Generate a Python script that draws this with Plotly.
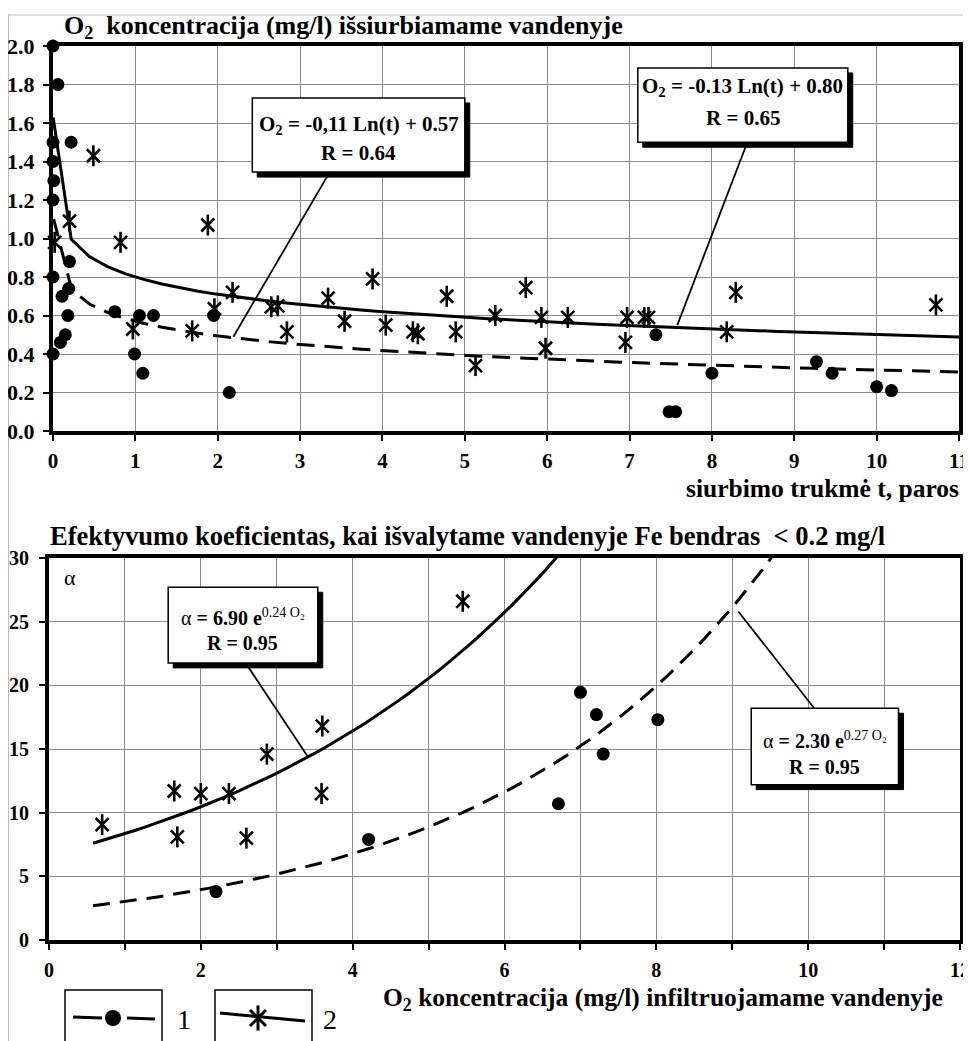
import numpy as np
import plotly.graph_objects as go

# The page has an 8px body margin: the figure is sized so that it exactly fills the window,
# and all positions below are given in window pixels and converted.
OFF = 8
W, H = 971 - OFF, 1041 - OFF
FONT = "Liberation Serif"

# ---------------- data: top chart (O2 in pumped water vs. pumping time) ----------------
t_dots = [0.0, 0.06, 0.0, 0.0, 0.01, 0.0, 0.22, 0.2, 0.19, 0.11, 0.18, 0.15, 0.09, 0.0, 0.0,
          0.75, 1.05, 1.22, 0.99, 1.09, 1.95, 2.14, 7.32, 7.48, 7.56, 8.0, 9.27, 9.46, 10.0, 10.18]
o2_dots = [2.0, 1.8, 1.5, 1.4, 1.3, 1.2, 1.5, 0.88, 0.74, 0.7, 0.6, 0.5, 0.46, 0.8, 0.4,
           0.62, 0.6, 0.6, 0.4, 0.3, 0.6, 0.2, 0.5, 0.1, 0.1, 0.3, 0.36, 0.3, 0.23, 0.21]
t_stars = [0.49, 0.2, 0.02, 0.82, 1.88, 0.97, 1.69, 1.96, 2.18, 2.65, 2.73, 2.84, 3.34, 3.54,
           3.88, 4.04, 4.37, 4.43, 4.78, 4.89, 5.13, 5.37, 5.74, 5.93, 5.98, 6.25, 6.95, 6.97,
           7.18, 7.23, 8.18, 8.29, 10.72]
o2_stars = [1.43, 1.09, 0.98, 0.98, 1.07, 0.53, 0.52, 0.635, 0.72, 0.645, 0.65, 0.515, 0.69, 0.57,
            0.79, 0.55, 0.515, 0.505, 0.70, 0.515, 0.34, 0.60, 0.745, 0.59, 0.43, 0.59, 0.46, 0.59,
            0.59, 0.59, 0.515, 0.72, 0.655]
# log trend lines  O2 = k*ln(t) + c   (k, c, t_start, t_end)
fit_dots_top = (-0.11, 0.57, 0.008, 11.0)
fit_stars_top = (-0.13, 0.80, 0.0017, 11.0)
top_x_ticks = list(range(0, 12))

# ---------------- data: bottom chart (alpha vs. O2 in infiltrated water) ----------------
o2in_dots = [2.2, 4.21, 6.71, 7.0, 7.21, 7.3, 8.02]
alpha_dots = [3.8, 7.9, 10.7, 19.45, 17.7, 14.6, 17.3]
o2in_stars = [0.7, 1.65, 1.69, 2.0, 2.37, 2.6, 2.87, 3.59, 3.6, 5.45]
alpha_stars = [9.06, 11.7, 8.1, 11.5, 11.5, 8.0, 14.6, 11.5, 16.8, 26.6]
# exponential curves as drawn  alpha = a*exp(b*x)   (a, b, x_start, x_end)
fit_dots_bot = (2.30, 0.27, 0.58, 9.55)
fit_stars_bot = (6.67, 0.225, 0.58, 7.2)
bot_x_ticks = list(range(0, 13))
bot_x_labels = [str(v) if v % 2 == 0 else "" for v in bot_x_ticks]


def px(x):
    return (x - OFF) / W


def py(y):
    return 1 - (y - OFF) / H


fig = go.Figure()

# ---- top trend lines ----
k, c, t0, t1 = fit_dots_top
tt = np.linspace(t0, t1, 51)
fig.add_trace(go.Scatter(x=tt, y=k * np.log(tt) + c, mode="lines",
                         line=dict(color="black", width=3, dash="18px,10px"),
                         xaxis="x", yaxis="y", hoverinfo="skip"))
k, c, t0, t1 = fit_stars_top
tt = np.linspace(t0, t1, 51)
fig.add_trace(go.Scatter(x=tt, y=k * np.log(tt) + c, mode="lines",
                         line=dict(color="black", width=3),
                         xaxis="x", yaxis="y", hoverinfo="skip"))

# ---- bottom curves ----
a, b, x0, x1 = fit_dots_bot
xx = np.linspace(x0, x1, 60)
fig.add_trace(go.Scatter(x=xx, y=a * np.exp(b * xx), mode="lines",
                         line=dict(color="black", width=3, dash="17px,10px"),
                         xaxis="x2", yaxis="y2", hoverinfo="skip"))
a, b, x0, x1 = fit_stars_bot
xx = np.linspace(x0, x1, 60)
fig.add_trace(go.Scatter(x=xx, y=a * np.exp(b * xx), mode="lines",
                         line=dict(color="black", width=3),
                         xaxis="x2", yaxis="y2", hoverinfo="skip"))


def add_dots(x, y, xa, ya, size=13):
    fig.add_trace(go.Scatter(x=x, y=y, mode="markers", cliponaxis=False,
                             marker=dict(symbol="circle", size=size, color="black"),
                             xaxis=xa, yaxis=ya))


def add_stars(x, y, xa, ya, size=13, width=2.6):
    fig.add_trace(go.Scatter(x=x, y=y, mode="markers", cliponaxis=False,
                             marker=dict(symbol="x-thin-open", size=size, color="black",
                                         line=dict(color="black", width=width)),
                             xaxis=xa, yaxis=ya))
    fig.add_trace(go.Scatter(x=x, y=y, mode="markers", cliponaxis=False,
                             marker=dict(symbol="line-ns-open", size=size + 2, color="black",
                                         line=dict(color="black", width=width)),
                             xaxis=xa, yaxis=ya))


add_dots(t_dots, o2_dots, "x", "y")
add_stars(t_stars, o2_stars, "x", "y")
add_dots(o2in_dots, alpha_dots, "x2", "y2")
add_stars(o2in_stars, alpha_stars, "x2", "y2")

# ---- legend keys on a hidden axis measured in window pixels ----
fig.add_trace(go.Scatter(x=[73, 102, None, 127, 155], y=[1017, 1018, None, 1018, 1019], mode="lines",
                         line=dict(color="black", width=3), xaxis="x3", yaxis="y3"))
add_dots([113], [1018], "x3", "y3", size=16)
fig.add_trace(go.Scatter(x=[220, 305], y=[1013, 1021], mode="lines",
                         line=dict(color="black", width=3), xaxis="x3", yaxis="y3"))
add_stars([258], [1018], "x3", "y3", size=16, width=3)


def axis_style(size):
    return dict(showline=True, linecolor="black", linewidth=4, mirror=True,
                showgrid=True, gridcolor="#8c8c8c", gridwidth=1.2, zeroline=False,
                ticks="outside", ticklen=6, tickwidth=2, tickcolor="black",
                tickfont=dict(family=FONT, size=size, color="black", weight="bold"),
                fixedrange=True, automargin=False)


fig.update_layout(
    template="none",
    width=W, height=H, margin=dict(l=0, r=0, t=0, b=0, pad=0, autoexpand=False),
    paper_bgcolor="white", plot_bgcolor="rgba(0,0,0,0)", showlegend=False,
    font=dict(family=FONT, color="black"),
    xaxis=dict(domain=[px(53), px(959)], range=[0, 11], tickvals=top_x_ticks,
               anchor="y", ticklabelstandoff=2, **axis_style(21)),
    yaxis=dict(domain=[py(431), py(46)], range=[0, 2], dtick=0.2, tickformat=".1f",
               anchor="x", ticklabelstandoff=4, **axis_style(22)),
    xaxis2=dict(domain=[px(49), px(960)], range=[0, 12], tickvals=bot_x_ticks,
                ticktext=bot_x_labels, anchor="y2", ticklabelstandoff=3, **axis_style(20)),
    yaxis2=dict(domain=[py(940), py(558)], range=[0, 30], dtick=5,
                anchor="x2", ticklabelstandoff=6, **axis_style(20)),
    xaxis3=dict(domain=[0, 1], range=[OFF, OFF + W], visible=False, anchor="y3", fixedrange=True,
                automargin=False),
    yaxis3=dict(domain=[0, 1], range=[OFF + H, OFF], visible=False, anchor="x3", fixedrange=True,
                automargin=False),
)

shapes = []
ann = []

# outer frame
shapes.append(dict(type="rect", xref="paper", yref="paper", x0=px(8.5), x1=px(967), y0=py(1046), y1=py(15),
                   line=dict(color="#bdbdbd", width=1.2), layer="below"))


def callout(xr, yr, x0, x1, y0, y1, dx, dy, lead, lines, size):
    shapes.append(dict(type="rect", xref=xr, yref=yr, x0=x0 + dx, x1=x1 + dx, y0=y0 - dy, y1=y1 - dy,
                       fillcolor="black", line=dict(color="black", width=1), layer="above"))
    shapes.append(dict(type="rect", xref=xr, yref=yr, x0=x0, x1=x1, y0=y0, y1=y1,
                       fillcolor="white", line=dict(color="black", width=1.5), layer="above"))
    shapes.append(dict(type="line", xref=xr, yref=yr, x0=lead[0], y0=lead[1], x1=lead[2], y1=lead[3],
                       line=dict(color="black", width=1.8), layer="above"))
    for (tx, ty, txt) in lines:
        ann.append(dict(xref=xr, yref=yr, x=tx, y=ty, text=txt, showarrow=False,
                        xanchor="center", yanchor="middle",
                        font=dict(family=FONT, size=size, color="black")))


callout("x", "y", 2.42, 5.0, 1.345, 1.73, 0.06, 0.026, (3.36, 1.345, 2.19, 0.49),
        [(3.71, 1.59, "<b>O<sub>2</sub> = -0,11 Ln(t) + 0.57</b>"), (3.71, 1.444, "<b>R = 0.64</b>")], 21)
callout("x", "y", 7.1, 9.65, 1.50, 1.886, 0.06, 0.026, (8.43, 1.50, 7.58, 0.55),
        [(8.375, 1.787, "<b>O<sub>2</sub> = -0.13 Ln(t) + 0.80</b>"), (8.375, 1.626, "<b>R = 0.65</b>")], 21)
callout("x2", "y2", 1.57, 3.54, 21.76, 27.7, 0.066, 0.39, (2.59, 21.76, 3.41, 14.4),
        [(2.55, 25.4, "α <b>= 6.90 e</b><sup>0.24 O₂</sup>"), (2.55, 23.3, "<b>R = 0.95</b>")], 20)
callout("x2", "y2", 9.25, 11.19, 12.2, 18.2, 0.066, 0.39, (10.08, 18.2, 9.08, 25.8),
        [(10.22, 15.7, "α <b>= 2.30 e</b><sup>0.27 O₂</sup>"), (10.22, 13.6, "<b>R = 0.95</b>")], 20)

# titles
ann.append(dict(xref="paper", yref="paper", x=px(62), y=py(27), xanchor="left", yanchor="middle",
                text="<b>O<sub>2</sub>  koncentracija (mg/l) išsiurbiamame vandenyje</b>", showarrow=False,
                font=dict(family=FONT, size=26, color="black")))
ann.append(dict(xref="paper", yref="paper", x=px(961), y=py(488), xanchor="right", yanchor="middle",
                text="<b>siurbimo trukmė t, paros</b>", showarrow=False,
                font=dict(family=FONT, size=25.5, color="black")))
ann.append(dict(xref="paper", yref="paper", x=px(48), y=py(536), xanchor="left", yanchor="middle",
                text="<b>Efektyvumo koeficientas, kai išvalytame vandenyje Fe bendras  &lt; 0.2 mg/l</b>",
                showarrow=False, font=dict(family=FONT, size=26.5, color="black")))
ann.append(dict(xref="paper", yref="paper", x=px(381), y=py(999), xanchor="left", yanchor="middle",
                text="<b>O<sub>2</sub> koncentracija (mg/l) infiltruojamame vandenyje</b>", showarrow=False,
                font=dict(family=FONT, size=25.5, color="black")))
ann.append(dict(xref="x2", yref="y2", x=0.28, y=28.5, xanchor="center", yanchor="middle",
                text="α", showarrow=False, font=dict(family=FONT, size=22, color="black")))

# legend boxes
shapes.append(dict(type="rect", xref="paper", yref="paper", x0=px(65), x1=px(162), y0=py(1050), y1=py(990),
                   line=dict(color="black", width=1.5), fillcolor="rgba(0,0,0,0)"))
shapes.append(dict(type="rect", xref="paper", yref="paper", x0=px(215), x1=px(312), y0=py(1050), y1=py(990),
                   line=dict(color="black", width=1.5), fillcolor="rgba(0,0,0,0)"))
ann.append(dict(xref="paper", yref="paper", x=px(175), y=py(1019), xanchor="left", yanchor="middle",
                text="1", showarrow=False, font=dict(family=FONT, size=28, color="black")))
ann.append(dict(xref="paper", yref="paper", x=px(321), y=py(1019), xanchor="left", yanchor="middle",
                text="2", showarrow=False, font=dict(family=FONT, size=28, color="black")))

fig.update_layout(shapes=shapes, annotations=ann)
fig.write_html("out.html")
